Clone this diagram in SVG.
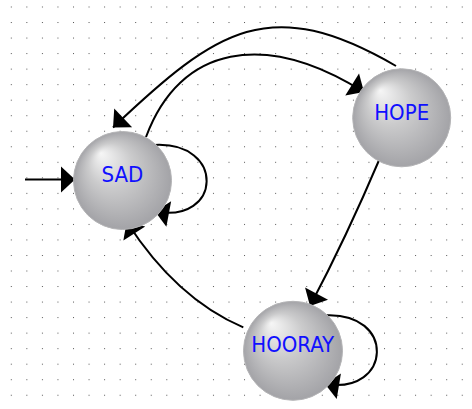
<svg xmlns="http://www.w3.org/2000/svg" width="472" height="409" viewBox="0 0 472 409">
  <defs>
    <pattern id="grid" patternUnits="userSpaceOnUse" x="10.8" y="6.5" width="15.55" height="15.53">
      <rect x="0" y="0" width="1" height="1" fill="#555"/>
    </pattern>
    <radialGradient id="sphere" cx="0.5" cy="0.5" r="0.5" fx="0.28" fy="0.22">
      <stop offset="0" stop-color="#f6f6f6"/>
      <stop offset="0.45" stop-color="#cbcbcc"/>
      <stop offset="1" stop-color="#a3a3a7"/>
    </radialGradient>
    <marker id="head" markerUnits="userSpaceOnUse" markerWidth="30" markerHeight="30" refX="0" refY="0" orient="auto" overflow="visible">
      <path d="M-14,-13 L0,0 L-14,13 Z" fill="#000"/>
    </marker>
    <style>
      .state { fill: url(#sphere); stroke: #b4b4b6; stroke-width: 1; }
      .label { font-family: "DejaVu Sans Condensed", "DejaVu Sans", sans-serif; font-stretch: condensed; font-size: 22px; fill: #1010ff; text-anchor: middle; }
      .edge { fill: none; stroke: #000; stroke-width: 2; marker-end: url(#head); }
    </style>
  </defs>

  <rect width="472" height="409" fill="#fff"/>
  <rect width="472" height="409" fill="url(#grid)"/>

  <g id="connectors">
    <!-- start arrow into SAD -->
    <path class="edge" d="M25,179.5 L75,179.5"/>
    <!-- SAD to HOPE -->
    <path class="edge" d="M146,137 C180,45 265,30 364,92"/>
    <!-- HOPE to SAD -->
    <path class="edge" d="M396,66 C270,-7 218,28 113,127.5"/>
    <!-- SAD self loop -->
    <path class="edge" d="M154,145 C226,141 222,224 155,211.5"/>
    <!-- HOPE to HOORAY -->
    <path class="edge" d="M380,158 Q346,238 310,306"/>
    <!-- HOORAY self loop -->
    <path class="edge" d="M324.5,315.3 C396.5,311.3 392,395 325,384"/>
    <!-- HOORAY to SAD -->
    <path class="edge" d="M243.3,327.3 Q176.4,298.9 126.7,221.7"/>
  </g>

  <g id="state-sad">
    <circle class="state" cx="122.5" cy="180.5" r="49"/>
    <text class="label" x="122.5" y="181.5">SAD</text>
  </g>
  <g id="state-hope">
    <circle class="state" cx="401.7" cy="117.8" r="49"/>
    <text class="label" x="401.7" y="119.5">HOPE</text>
  </g>
  <g id="state-hooray">
    <circle class="state" cx="293" cy="350.8" r="49.5"/>
    <text class="label" x="292.7" y="352">HOORAY</text>
  </g>
</svg>
